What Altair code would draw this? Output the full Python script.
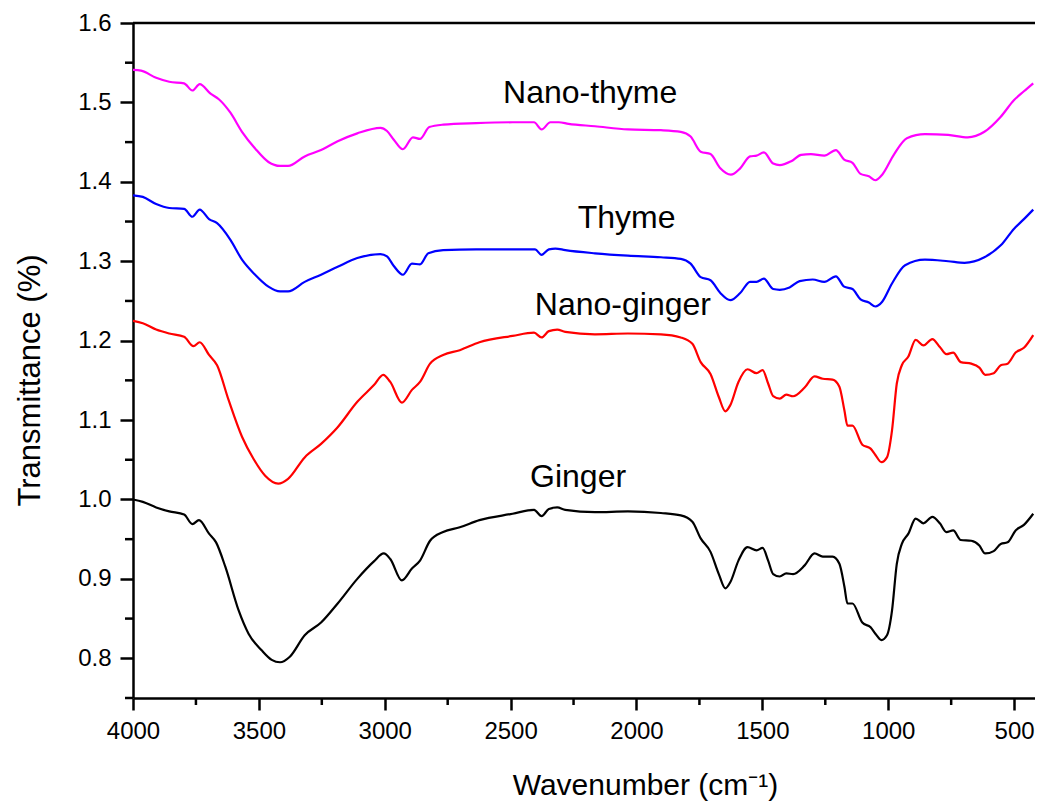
import altair as alt
import pandas as pd

# ---------------- data ----------------
wn_ginger = [4000, 3961, 3908, 3856, 3797, 3764, 3738, 3698, 3670, 3633, 3580, 3541, 3489, 3449, 3416,
             3377, 3318, 3253, 3187, 3109, 3043, 3004, 2978, 2932, 2892, 2860, 2820, 2768, 2702, 2624,
             2492, 2407, 2377, 2348, 2315, 2283, 2165, 2034, 1903, 1824, 1778, 1745, 1706, 1673, 1647,
             1627, 1595, 1559, 1523, 1499, 1477, 1457, 1431, 1405, 1378, 1332, 1293, 1260, 1221, 1194,
             1174, 1162, 1142, 1103, 1070, 1051, 1027, 1005, 985, 966, 946, 920, 891, 860, 825, 795,
             769, 742, 712, 670, 638, 615, 581, 553, 526, 494, 461, 424]
t_ginger = [1.000, 0.997, 0.990, 0.985, 0.981, 0.969, 0.974, 0.957, 0.946, 0.915, 0.860, 0.831, 0.810, 0.798, 0.795,
            0.802, 0.829, 0.845, 0.869, 0.900, 0.922, 0.932, 0.925, 0.898, 0.913, 0.923, 0.948, 0.959, 0.965, 0.974,
            0.982, 0.987, 0.979, 0.988, 0.990, 0.987, 0.984, 0.985, 0.983, 0.980, 0.972, 0.951, 0.934, 0.906, 0.888,
            0.896, 0.923, 0.940, 0.936, 0.939, 0.923, 0.906, 0.903, 0.907, 0.906, 0.917, 0.932, 0.928, 0.928, 0.919,
            0.890, 0.869, 0.869, 0.845, 0.839, 0.831, 0.823, 0.829, 0.860, 0.919, 0.944, 0.957, 0.976, 0.970, 0.978, 0.970,
            0.959, 0.961, 0.949, 0.948, 0.942, 0.932, 0.935, 0.944, 0.946, 0.961, 0.968, 0.982]

wn_nano_ginger = [4000, 3961, 3908, 3856, 3797, 3760, 3735, 3698, 3666, 3620, 3567, 3521, 3475, 3423, 3384,
                  3318, 3253, 3187, 3109, 3043, 3006, 2978, 2932, 2892, 2860, 2820, 2768, 2702, 2624, 2492,
                  2407, 2377, 2348, 2315, 2283, 2165, 2034, 1903, 1824, 1778, 1745, 1706, 1673, 1647, 1627,
                  1595, 1559, 1523, 1499, 1477, 1457, 1431, 1405, 1378, 1332, 1293, 1260, 1221, 1194, 1174,
                  1162, 1142, 1103, 1070, 1051, 1027, 1005, 985, 966, 946, 920, 891, 860, 825, 795, 769,
                  742, 712, 670, 638, 615, 581, 553, 526, 494, 461, 424]
t_nano_ginger = [1.225, 1.222, 1.214, 1.209, 1.205, 1.193, 1.198, 1.182, 1.169, 1.125, 1.079, 1.051, 1.030, 1.020, 1.026,
                 1.053, 1.070, 1.091, 1.123, 1.144, 1.157, 1.148, 1.122, 1.138, 1.148, 1.171, 1.182, 1.188, 1.198, 1.206,
                 1.210, 1.204, 1.212, 1.214, 1.211, 1.208, 1.209, 1.208, 1.204, 1.196, 1.173, 1.158, 1.129, 1.111, 1.119,
                 1.148, 1.164, 1.159, 1.163, 1.146, 1.130, 1.127, 1.132, 1.130, 1.141, 1.155, 1.152, 1.151, 1.142, 1.112,
                 1.093, 1.093, 1.069, 1.064, 1.056, 1.047, 1.053, 1.087, 1.146, 1.169, 1.180, 1.201, 1.194, 1.202, 1.192, 1.183,
                 1.185, 1.173, 1.171, 1.166, 1.157, 1.159, 1.169, 1.171, 1.185, 1.191, 1.207]

wn_thyme = [4000, 3961, 3908, 3856, 3797, 3764, 3735, 3698, 3666, 3613, 3567, 3515, 3462, 3416, 3384,
            3318, 3253, 3187, 3109, 3017, 2991, 2964, 2928, 2892, 2860, 2827, 2768, 2637, 2492, 2403,
            2377, 2348, 2322, 2283, 2165, 2034, 1903, 1824, 1785, 1745, 1706, 1667, 1627, 1588, 1549,
            1523, 1494, 1457, 1431, 1392, 1352, 1300, 1254, 1208, 1175, 1142, 1110, 1077, 1051, 1024,
            985, 933, 854, 762, 697, 618, 553, 500, 461, 424]
t_thyme = [1.383, 1.381, 1.372, 1.367, 1.366, 1.356, 1.365, 1.353, 1.348, 1.327, 1.302, 1.283, 1.268, 1.262, 1.262,
           1.274, 1.283, 1.293, 1.304, 1.309, 1.306, 1.294, 1.283, 1.297, 1.296, 1.310, 1.314, 1.315, 1.315, 1.315,
           1.308, 1.315, 1.316, 1.314, 1.310, 1.307, 1.305, 1.303, 1.297, 1.280, 1.276, 1.260, 1.251, 1.260, 1.274,
           1.274, 1.278, 1.265, 1.264, 1.267, 1.275, 1.277, 1.274, 1.281, 1.268, 1.265, 1.252, 1.248, 1.243, 1.249,
           1.272, 1.295, 1.302, 1.300, 1.298, 1.305, 1.320, 1.341, 1.353, 1.365]

wn_nano_thyme = [4000, 3968, 3908, 3856, 3797, 3764, 3735, 3692, 3659, 3613, 3567, 3515, 3462, 3416, 3384,
                 3318, 3253, 3187, 3109, 3017, 2991, 2964, 2928, 2888, 2860, 2823, 2768, 2637, 2492, 2407,
                 2377, 2342, 2309, 2270, 2165, 2034, 1903, 1824, 1785, 1745, 1706, 1667, 1625, 1588, 1549,
                 1523, 1494, 1457, 1431, 1385, 1346, 1307, 1254, 1208, 1175, 1142, 1110, 1077, 1051, 1024,
                 978, 926, 854, 762, 684, 618, 553, 500, 461, 424]
t_nano_thyme = [1.541, 1.540, 1.531, 1.526, 1.524, 1.515, 1.523, 1.511, 1.504, 1.487, 1.463, 1.442, 1.425, 1.420, 1.420,
                1.432, 1.440, 1.451, 1.461, 1.468, 1.464, 1.453, 1.441, 1.456, 1.454, 1.469, 1.472, 1.474, 1.475, 1.475,
                1.466, 1.475, 1.475, 1.473, 1.470, 1.466, 1.465, 1.463, 1.457, 1.438, 1.435, 1.417, 1.409, 1.417, 1.432,
                1.433, 1.437, 1.423, 1.421, 1.426, 1.434, 1.435, 1.433, 1.440, 1.428, 1.424, 1.410, 1.407, 1.402, 1.409,
                1.434, 1.455, 1.460, 1.459, 1.456, 1.463, 1.482, 1.503, 1.514, 1.524]

series_names = ["Ginger", "Nano-ginger", "Thyme", "Nano-thyme"]
series_colors = ["#000000", "#ff0000", "#0000ff", "#ff00ff"]

label_text = ["Nano-thyme", "Thyme", "Nano-ginger", "Ginger"]
label_wn = [2184, 2039, 2054, 2232]
label_val = [1.512, 1.354, 1.245, 1.028]

x_domain = [417, 4000]
y_domain = [0.75, 1.6]
x_major_ticks = [500, 1000, 1500, 2000, 2500, 3000, 3500, 4000]
x_minor_ticks = [750, 1250, 1750, 2250, 2750, 3250, 3750]
y_major_ticks = [0.8, 0.9, 1.0, 1.1, 1.2, 1.3, 1.4, 1.5, 1.6]
y_minor_ticks = [0.75, 0.85, 0.95, 1.05, 1.15, 1.25, 1.35, 1.45, 1.55]

# ---------------- build tables ----------------
frames = []
for name, wn, tv in [("Ginger", wn_ginger, t_ginger),
                     ("Nano-ginger", wn_nano_ginger, t_nano_ginger),
                     ("Thyme", wn_thyme, t_thyme),
                     ("Nano-thyme", wn_nano_thyme, t_nano_thyme)]:
    frames.append(pd.DataFrame({"wn": wn, "T": tv, "series": name}))
df = pd.concat(frames, ignore_index=True)
labels_df = pd.DataFrame({"wn": label_wn, "T": label_val, "text": label_text})
xminor_df = pd.DataFrame({"wn": x_minor_ticks})
yminor_df = pd.DataFrame({"T": y_minor_ticks})
frame_df = pd.DataFrame({"wn": [x_domain[1]], "wn_end": [x_domain[0]], "T": [y_domain[1]]})

FONT = "Liberation Sans"
W, H = 902, 675
AXW = 2.5

x_scale = alt.Scale(domain=x_domain, reverse=True, nice=False, zero=False)
y_scale = alt.Scale(domain=y_domain, nice=False, zero=False)

x_axis = alt.Axis(
    values=x_major_ticks, format="d", tickSize=12,
    tickWidth=AXW, tickColor="black", domainColor="black", domainWidth=AXW,
    labelFont=FONT, labelFontSize=24, labelColor="black", labelPadding=9,
    labelFlush=False, labelOverlap=False, grid=False,
    title="Wavenumber (cm\u207b\u00b9)", titleFont=FONT, titleFontSize=30, titleFontWeight="normal",
    titleColor="black", titleX=512, titleY=96, titleBaseline="alphabetic", titleAlign="center",
)
y_axis = alt.Axis(
    values=y_major_ticks, format=".1f", tickSize=13,
    tickWidth=AXW, tickColor="black", domainColor="black", domainWidth=AXW,
    labelFont=FONT, labelFontSize=24, labelColor="black", labelPadding=9,
    labelFlush=False, labelOverlap=False, grid=False,
    title="Transmittance (%)", titleFont=FONT, titleFontSize=31, titleFontWeight="normal",
    titleColor="black", titleX=-103, titleY=357, titleBaseline="middle", titleAlign="center", titleAngle=-90,
)

lines = alt.Chart(df).mark_line(strokeWidth=2.2, interpolate="monotone", clip=True).encode(
    x=alt.X("wn:Q", scale=x_scale, axis=x_axis),
    y=alt.Y("T:Q", scale=y_scale, axis=y_axis),
    color=alt.Color("series:N", scale=alt.Scale(domain=series_names, range=series_colors), legend=None),
)

texts = alt.Chart(labels_df).mark_text(font=FONT, fontSize=32, color="black", align="center",
                                       baseline="middle").encode(
    x=alt.X("wn:Q", scale=x_scale),
    y=alt.Y("T:Q", scale=y_scale),
    text="text:N",
)

x_minor = alt.Chart(xminor_df).mark_rule(color="black", strokeWidth=AXW).encode(
    x=alt.X("wn:Q", scale=x_scale),
    y=alt.value(H), y2=alt.value(H + 7),
)
y_minor = alt.Chart(yminor_df).mark_rule(color="black", strokeWidth=AXW).encode(
    y=alt.Y("T:Q", scale=y_scale),
    x=alt.value(-8), x2=alt.value(0),
)
top_frame = alt.Chart(frame_df).mark_rule(color="black", strokeWidth=AXW).encode(
    x=alt.X("wn:Q", scale=x_scale),
    x2=alt.X2("wn_end"),
    y=alt.Y("T:Q", scale=y_scale),
)

chart = alt.layer(lines, texts, x_minor, y_minor, top_frame).properties(
    width=W, height=H,
    autosize=alt.AutoSizeParams(type="none"),
    padding={"left": 125, "top": 15, "right": 0, "bottom": 105},
    background="white",
).configure_view(stroke=None)

chart.save("out.html", embed_options={"renderer": "svg", "actions": False})
